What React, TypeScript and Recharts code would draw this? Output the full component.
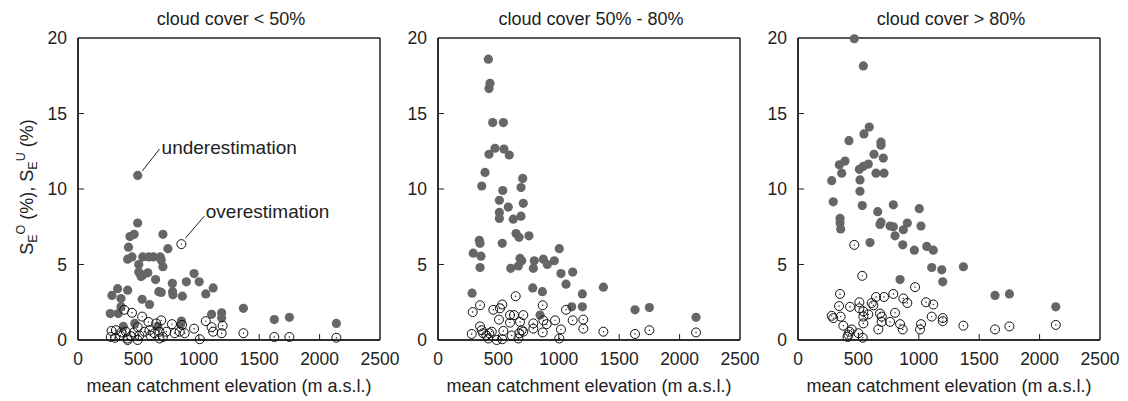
import React from 'react';
import { ScatterChart, Scatter, XAxis, YAxis, ReferenceLine, ReferenceDot } from 'recharts';

// elevation (m a.s.l.), S_E value (%)
const under1 = [
  [494,10.9],[494,7.75],[465,7.0],[430,6.85],[703,7.0],[418,6.15],[744,6.05],[411,5.35],[447,5.5],[536,5.5],
  [586,5.5],[625,5.5],[681,5.5],[689,5.3],[503,5.0],[703,4.85],[503,4.5],[522,4.2],[536,4.3],[578,4.45],
  [642,4.0],[961,4.4],[1003,3.85],[781,3.75],[783,3.2],[786,3.0],[897,3.85],[864,2.9],[669,3.2],[689,3.15],
  [1119,3.45],[1058,3.05],[328,3.4],[281,2.95],[411,3.3],[356,2.75],[531,2.7],[592,2.35],[356,2.2],[267,1.75],
  [333,1.75],[1106,1.7],[1189,1.8],[1189,1.45],[1369,2.1],[1625,1.35],[1750,1.5],[2139,1.1],[856,1.25],[375,0.9],
  [470,1.1],[660,0.9],[850,1.05],
];
const over1 = [
  [856,6.35],[383,2.0],[447,1.8],[531,1.55],[583,1.2],[647,1.1],[689,1.3],[778,1.05],[861,1.0],[961,0.75],
  [1058,1.25],[1106,0.85],[1119,0.55],[1197,0.95],[1189,0.45],[1369,0.45],[1625,0.2],[1750,0.2],[2139,0.15],[1008,0.05],
  [278,0.6],[272,0.2],[314,0.65],[350,0.3],[397,0.55],[411,0.1],[411,0.0],[461,0.5],[494,0.85],[494,0.0],
  [508,0.3],[550,0.55],[592,0.65],[633,0.45],[675,0.55],[675,0.1],[703,0.2],[731,0.55],[800,0.45],[842,0.55],
  [883,0.45],[308,0.15],[360,0.5],[440,0.25],[600,0.3],
];
const under2 = [
  [417,18.6],[431,17.0],[422,16.65],[453,14.4],[541,14.4],[472,12.7],[546,12.65],[422,12.3],[590,12.25],[389,11.1],
  [701,10.7],[362,10.2],[687,10.1],[536,9.9],[508,9.25],[582,8.8],[706,9.05],[508,8.45],[508,8.05],[687,8.2],
  [623,8.0],[646,7.05],[671,6.8],[753,6.9],[342,6.6],[348,6.4],[532,6.4],[292,5.75],[356,5.55],[348,4.8],
  [679,5.4],[693,5.25],[665,4.9],[602,4.75],[797,5.25],[789,4.75],[872,5.35],[905,5.0],[963,5.25],[1004,6.05],
  [1018,4.4],[1060,3.7],[1115,4.5],[784,3.45],[864,3.2],[282,3.1],[1195,3.05],[1195,2.2],[1107,2.2],[1369,3.5],
  [845,1.65],[1631,2.0],[1750,2.15],[2136,1.5],
];
const over2 = [
  [643,2.9],[348,2.3],[287,1.85],[532,2.35],[458,2.0],[513,2.1],[867,2.3],[1060,2.0],[505,1.35],[596,1.65],
  [629,1.65],[706,1.65],[596,1.15],[679,1.2],[789,1.1],[872,1.3],[969,1.3],[1115,1.3],[1203,1.35],[1203,0.75],
  [1018,0.7],[900,1.05],[867,0.5],[1369,0.55],[1631,0.4],[1750,0.65],[2136,0.5],[1004,0.1],[279,0.4],[348,0.9],
  [362,0.65],[373,0.45],[425,0.45],[417,0.1],[486,0.0],[532,0.05],[541,0.6],[673,0.45],[665,0.1],[706,0.55],
  [789,0.75],[445,0.55],[693,0.65],[400,0.3],[610,0.3],
];
const under3 = [
  [466,19.95],[541,18.15],[590,14.1],[546,13.65],[422,13.2],[687,13.1],[687,12.9],[629,12.3],[706,12.05],[389,11.85],
  [342,11.6],[582,11.65],[541,11.5],[508,11.3],[362,11.05],[646,11.05],[712,11.05],[279,10.55],[513,10.6],[513,9.85],
  [292,9.15],[532,8.9],[789,8.95],[1004,8.7],[660,8.5],[348,8.05],[348,7.75],[353,7.35],[687,7.8],[679,7.65],
  [762,7.55],[789,7.5],[905,7.75],[872,7.3],[1018,7.55],[803,6.9],[596,6.45],[867,6.3],[963,5.95],[1066,6.2],
  [1120,5.95],[1107,4.8],[1190,4.65],[1369,4.85],[1198,3.85],[845,4.0],[1631,2.95],[1750,3.05],[2134,2.2],
];
const over3 = [
  [466,6.3],[532,4.25],[969,3.5],[348,3.05],[646,2.85],[712,2.85],[789,3.05],[872,2.75],[905,2.45],[340,2.25],
  [431,2.2],[508,2.5],[508,2.1],[610,2.45],[624,2.3],[1060,2.5],[1120,2.35],[279,1.6],[292,1.45],[353,1.55],
  [541,1.9],[541,1.55],[582,1.7],[679,1.75],[693,1.55],[693,1.2],[803,1.8],[1107,1.55],[1198,1.45],[1198,1.25],
  [541,1.1],[762,1.2],[845,1.05],[867,0.7],[665,0.7],[1018,1.05],[1010,0.7],[1369,0.95],[375,0.95],[425,0.55],
  [417,0.35],[500,0.45],[536,0.15],[445,0.7],[1631,0.7],[1750,0.9],[2134,1.0],[410,0.2],
];

const titles = ['cloud cover < 50%', 'cloud cover 50% - 80%', 'cloud cover > 80%'];
const xTicks = [0, 500, 1000, 1500, 2000, 2500];
const yTicks = [0, 5, 10, 15, 20];
const xLabel = 'mean catchment elevation (m a.s.l.)';

const FONT = 'Liberation Sans, Arial, Helvetica, sans-serif';
const GAP = 13;
const XMAX = 2500;
const YMAX = 20;

const toPts = (a: number[][]) => a.map(([x, y]) => ({ x, y }));

const XTick = (p: any) => (
  <text x={p.x} y={p.y} dy="0.71em" textAnchor="middle" fontSize={17.5} fill="#222" fontFamily={FONT}>{p.payload.value}</text>
);
const YTick = (p: any) => (
  <text x={p.x} y={p.y} dy="0.36em" textAnchor="end" fontSize={17.5} fill="#222" fontFamily={FONT}>{p.payload.value}</text>
);

const Filled = (p: any) => <circle cx={p.cx} cy={p.cy} r={4.6} fill="#656767" />;
const Open = (p: any) => (
  <g>
    <circle cx={p.cx} cy={p.cy} r={4.5} fill="none" stroke="#111" strokeWidth={1} />
    <circle cx={p.cx} cy={p.cy} r={0.7} fill="#111" />
  </g>
);

const YLabel = (p: any) => {
  const vb = p.viewBox || { x: 0, y: 38, width: 78, height: 302 };
  const cx = vb.x + 33;
  const cy = vb.y + vb.height / 2 - 2;
  return (
    <text x={cx} y={cy} transform={`rotate(-90 ${cx} ${cy})`} textAnchor="middle" fontSize={18} fill="#222" fontFamily={FONT}>
      S<tspan dy={4} fontSize={12.5}>E</tspan><tspan dy={-12} fontSize={12.5}>O</tspan><tspan dy={8}> (%), S</tspan>
      <tspan dy={4} fontSize={12.5}>E</tspan><tspan dy={-12} fontSize={12.5}>U</tspan><tspan dy={8}> (%)</tspan>
    </text>
  );
};

const Note = (text: string) => (p: any) => {
  const vb = p.viewBox || { x: 0, y: 0 };
  return <text x={vb.x} y={vb.y} fontSize={19} fill="#222" fontFamily={FONT}>{text}</text>;
};

const Title = (text: string) => (p: any) => {
  const vb = p.viewBox || { x: 78, y: 38, width: 302 };
  return <text x={vb.x + 153} y={25} textAnchor="middle" fontSize={18} fill="#222" fontFamily={FONT}>{text}</text>;
};

const XLab = (p: any) => {
  const vb = p.viewBox || { x: 78, y: 340, width: 302 };
  return <text x={vb.x + vb.width / 2} y={392} textAnchor="middle" fontSize={18} fill="#222" fontFamily={FONT}>{xLabel}</text>;
};

// frame sides and inward tick marks, in data units
const frameSides = [
  [{ x: 0, y: 0 }, { x: XMAX, y: 0 }],
  [{ x: 0, y: 0 }, { x: 0, y: YMAX }],
  [{ x: 0, y: YMAX }, { x: XMAX, y: YMAX }],
  [{ x: XMAX, y: 0 }, { x: XMAX, y: YMAX }],
];
const xTickMarks = xTicks.filter((v) => v > 0 && v < XMAX).map((v) => [{ x: v, y: 0 }, { x: v, y: 0.4 }]);
const yTickMarks = yTicks.filter((v) => v > 0 && v < YMAX).map((v) => [{ x: 0, y: v }, { x: 50, y: v }]);

function Panel({ idx, left, under, over }: { idx: number; left: number; under: number[][]; over: number[][] }) {
  return (
    <div style={{ position: 'absolute', left, top: 0 }}>
      <ScatterChart width={402} height={401} margin={{ top: 38, right: 22, bottom: 0, left: 0 }}>
        <Scatter data={toPts(under)} shape={<Filled />} fill="#656767" isAnimationActive={false} />
        <Scatter data={toPts(over)} shape={<Open />} fill="none" isAnimationActive={false} />
        {frameSides.map((s, i) => (
          <ReferenceLine key={'f' + i} segment={s} stroke="#222" strokeWidth={1.5} ifOverflow="visible" />
        ))}
        {xTickMarks.map((s, i) => (
          <ReferenceLine key={'xt' + i} segment={s} stroke="#222" strokeWidth={1} ifOverflow="visible" />
        ))}
        {yTickMarks.map((s, i) => (
          <ReferenceLine key={'yt' + i} segment={s} stroke="#222" strokeWidth={1} ifOverflow="visible" />
        ))}
        {idx === 0 && (
          <ReferenceLine segment={[{ x: 533, y: 11.2 }, { x: 675, y: 12.65 }]} stroke="#222" strokeWidth={1} ifOverflow="visible" />
        )}
        {idx === 0 && (
          <ReferenceLine segment={[{ x: 890, y: 6.75 }, { x: 1045, y: 8.2 }]} stroke="#222" strokeWidth={1} ifOverflow="visible" />
        )}
        <ReferenceDot x={0} y={YMAX} r={0} stroke="none" label={{ content: Title(titles[idx]) }} />
        {idx === 0 && <ReferenceDot x={692} y={12.32} r={0} stroke="none" label={{ content: Note('underestimation') }} />}
        {idx === 0 && <ReferenceDot x={1058} y={8.06} r={0} stroke="none" label={{ content: Note('overestimation') }} />}
        <XAxis type="number" dataKey="x" domain={[0, XMAX]} ticks={xTicks} interval={0} height={61}
          axisLine={{ stroke: '#222', strokeWidth: 1.5 }} tickLine={false} tickSize={0} tickMargin={GAP} tick={<XTick />}
          label={{ content: XLab }} />
        <YAxis type="number" dataKey="y" domain={[0, YMAX]} ticks={yTicks} interval={0} width={78}
          axisLine={{ stroke: '#222', strokeWidth: 1.5 }} tickLine={false} tickSize={0} tickMargin={11} tick={<YTick />}
          label={idx === 0 ? { content: YLabel } : undefined} />
      </ScatterChart>
    </div>
  );
}

export default function App() {
  return (
    <div style={{ position: 'absolute', left: 0, top: 0, width: 1128, height: 401, background: '#fff' }}>
      <Panel idx={0} left={0} under={under1} over={over1} />
      <Panel idx={1} left={360} under={under2} over={over2} />
      <Panel idx={2} left={720} under={under3} over={over3} />
    </div>
  );
}
